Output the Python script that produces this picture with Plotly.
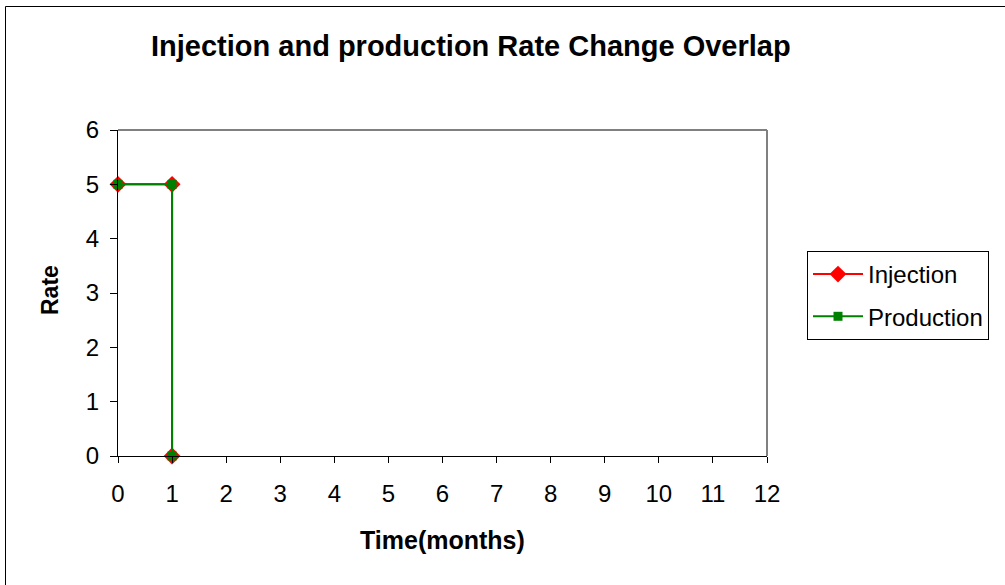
import plotly.graph_objects as go

# data
time_months = [0, 1, 1]
injection = [5, 5, 0]
production = [5, 5, 0]
x_ticks = list(range(0, 13))
y_ticks = list(range(0, 7))

FONT = "Liberation Sans, Arial, sans-serif"

fig = go.Figure()
fig.add_trace(go.Scatter(
    x=time_months, y=injection, name="Injection", mode="lines+markers",
    legendgroup="inj",
    line=dict(color="#ff0000", width=2),
    marker=dict(symbol="diamond", size=13, color="#ff0000"),
    cliponaxis=False,
))
fig.add_trace(go.Scatter(
    x=time_months, y=production, name="Production", mode="lines+markers",
    legendgroup="prod",
    line=dict(color="#008000", width=2),
    marker=dict(symbol="square", size=9, color="#008000"),
    cliponaxis=False,
))

L, R, T, B = 118, 767, 130, 456
W, H = 1005, 585
pw, ph = R - L, B - T

def px_x(v):
    return (v - L) / pw

def px_y(v):
    return (B - v) / ph

fig.update_layout(
    width=W, height=H,
    margin=dict(l=L, r=W - R, t=T, b=H - B),
    paper_bgcolor="white", plot_bgcolor="white",
    font=dict(family=FONT, size=24, color="#000000"),
    showlegend=True,
    legend=dict(
        x=px_x(807), y=px_y(251), xanchor="left", yanchor="top",
        bordercolor="#000000", borderwidth=1,
        font=dict(size=24, family=FONT),
        tracegroupgap=8, itemwidth=50,
    ),
    xaxis=dict(
        range=[0, 12], tickvals=x_ticks, showgrid=False, zeroline=False,
        showline=True, linecolor="#000000", linewidth=1,
        ticks="outside", ticklen=6, tickcolor="#000000",
        ticklabelstandoff=10,
        tickfont=dict(size=24, family=FONT),
    ),
    yaxis=dict(
        range=[0, 6], tickvals=y_ticks, showgrid=False, zeroline=False,
        showline=True, linecolor="#000000", linewidth=1,
        ticks="outside", ticklen=7, tickcolor="#000000",
        ticklabelstandoff=6,
        tickfont=dict(size=24, family=FONT),
    ),
    shapes=[
        # gray top/right plot border
        dict(type="line", xref="paper", yref="paper", x0=0, x1=1, y0=1, y1=1,
             line=dict(color="#808080", width=2)),
        dict(type="line", xref="paper", yref="paper", x0=1, x1=1, y0=0, y1=1,
             line=dict(color="#808080", width=2)),
        # outer chart frame
        dict(type="rect", xref="paper", yref="paper",
             x0=px_x(5.5), x1=px_x(1025), y0=px_y(6.5), y1=px_y(600),
             line=dict(color="#000000", width=1)),
    ],
    annotations=[
        dict(text="<b>Injection and production Rate Change Overlap</b>",
             xref="paper", yref="paper", x=px_x(471), y=px_y(46),
             xanchor="center", yanchor="middle", showarrow=False,
             font=dict(size=29, family=FONT)),
        dict(text="<b>Time(months)</b>",
             xref="paper", yref="paper", x=px_x(442), y=px_y(540),
             xanchor="center", yanchor="middle", showarrow=False,
             font=dict(size=25, family=FONT)),
        dict(text="<b>Rate</b>", textangle=-90,
             xref="paper", yref="paper", x=px_x(50), y=px_y(290),
             xanchor="center", yanchor="middle", showarrow=False,
             font=dict(size=23, family=FONT)),
    ],
)

fig.write_html("out.html", config={"displayModeBar": False},
               post_script="document.body.style.margin='0';")
